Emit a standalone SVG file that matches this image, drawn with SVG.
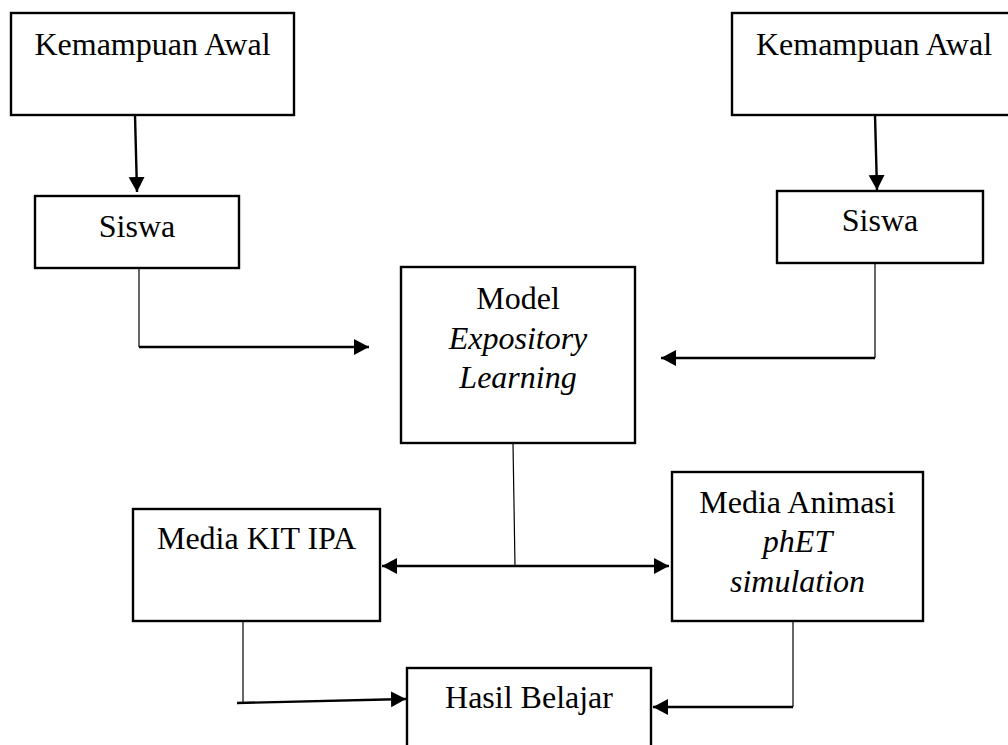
<svg xmlns="http://www.w3.org/2000/svg" width="1008" height="745" viewBox="0 0 1008 745">
<style>
  .box { fill: #ffffff; stroke: #000000; stroke-width: 2.4; }
  .t { font-family: "Liberation Serif", "Times New Roman", serif; font-size: 32px; fill: #000000; text-anchor: middle; }
  .i { font-style: italic; }
  .thin { fill: none; stroke: #000000; stroke-width: 1.2; }
  .thick { fill: none; stroke: #000000; stroke-width: 2.4; }
</style>
<defs>
  <marker id="ah" markerUnits="userSpaceOnUse" markerWidth="18" markerHeight="18" refX="15" refY="8" orient="auto-start-reverse" viewBox="0 0 18 18">
    <path d="M0,0 L15,8 L0,16 z" fill="#000000"/>
  </marker>
</defs>
<rect width="1008" height="745" fill="#ffffff"/>

<g id="connectors">
  <line class="thick" x1="135" y1="115" x2="137" y2="192" marker-end="url(#ah)"/>
  <line class="thick" x1="875" y1="115" x2="877" y2="190" marker-end="url(#ah)"/>
  <line class="thin" x1="139" y1="268" x2="139" y2="347"/>
  <line class="thick" x1="139" y1="347" x2="369" y2="347" marker-end="url(#ah)"/>
  <line class="thin" x1="875" y1="263" x2="875" y2="358"/>
  <line class="thick" x1="875" y1="358" x2="661" y2="358" marker-end="url(#ah)"/>
  <line class="thin" x1="513" y1="443" x2="515" y2="566"/>
  <line class="thick" x1="382" y1="566" x2="669" y2="566" marker-start="url(#ah)" marker-end="url(#ah)"/>
  <line class="thin" x1="243" y1="618" x2="243" y2="703"/>
  <line class="thick" x1="237" y1="703" x2="406" y2="699" marker-end="url(#ah)"/>
  <line class="thin" x1="793" y1="621" x2="793" y2="707"/>
  <line class="thick" x1="793" y1="707" x2="653" y2="707" marker-end="url(#ah)"/>
</g>

<g id="kemampuan-awal-1">
  <rect class="box" x="11" y="13" width="283" height="102"/>
  <text class="t" x="152.5" y="55">Kemampuan Awal</text>
</g>
<g id="kemampuan-awal-2">
  <rect class="box" x="732" y="13" width="284" height="102"/>
  <text class="t" x="874" y="55">Kemampuan Awal</text>
</g>
<g id="siswa-1">
  <rect class="box" x="35" y="196" width="204" height="72"/>
  <text class="t" x="137" y="237">Siswa</text>
</g>
<g id="siswa-2">
  <rect class="box" x="777" y="191" width="206" height="72"/>
  <text class="t" x="880" y="231">Siswa</text>
</g>
<g id="model">
  <rect class="box" x="401" y="267" width="234" height="176"/>
  <text class="t" x="518" y="309">Model</text>
  <text class="t i" x="518" y="349">Expository</text>
  <text class="t i" x="518" y="388">Learning</text>
</g>
<g id="media-kit-ipa">
  <rect class="box" x="133" y="509" width="247" height="112"/>
  <text class="t" x="256.5" y="549">Media KIT IPA</text>
</g>
<g id="media-animasi">
  <rect class="box" x="672" y="472" width="251" height="149"/>
  <text class="t" x="797.5" y="513">Media Animasi</text>
  <text class="t i" x="797.5" y="552">phET</text>
  <text class="t i" x="797.5" y="592">simulation</text>
</g>
<g id="hasil-belajar">
  <rect class="box" x="407" y="668" width="244" height="100"/>
  <text class="t" x="529" y="708">Hasil Belajar</text>
</g>
</svg>
